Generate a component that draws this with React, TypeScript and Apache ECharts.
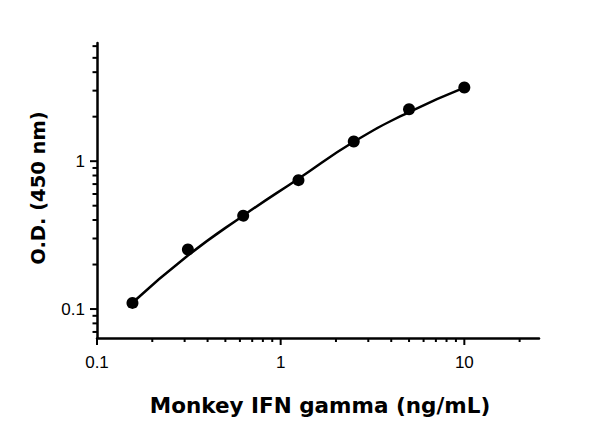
import React, { useEffect, useRef } from "react";
import * as echarts from "echarts";

// measured points
const conc = [0.156, 0.3125, 0.625, 1.25, 2.5, 5, 10];
const od = [0.11, 0.253, 0.428, 0.744, 1.359, 2.246, 3.15];
// fitted curve at the same concentrations
const curveConc = [0.156, 0.3125, 0.625, 1.25, 2.5, 5, 10];
const curveOd = [0.1103, 0.23, 0.428, 0.7614, 1.354, 2.15, 3.147];

const xMajorTicks = [0.1, 1, 10];
const xMinorTicks = [0.2, 0.3, 0.4, 0.5, 0.6, 0.7, 0.8, 0.9, 2, 3, 4, 5, 6, 7, 8, 9, 20];
const yMajorTicks = [0.1, 1];
const yMinorTicks = [0.07, 0.08, 0.09, 0.2, 0.3, 0.4, 0.5, 0.6, 0.7, 0.8, 0.9, 2, 3, 4, 5, 6];

const xTitle = "Monkey IFN gamma (ng/mL)";
const yTitle = "O.D. (450 nm)";

const X_MIN = 0.1;
const X_MAX = 25.5;
const Y_MIN = 0.0637;
const Y_MAX = 6.3;

const isPow10 = (v: number) => {
  const l = Math.log10(v);
  return Math.abs(l - Math.round(l)) < 1e-6;
};
const fmt = (v: number) => (isPow10(v) ? String(parseFloat(v.toPrecision(3))) : "");

export default function App() {
  const ref = useRef<HTMLDivElement>(null);
  useEffect(() => {
    document.body.style.margin = "0";
    if (!ref.current) return;
    const chart = echarts.init(ref.current, null, { renderer: "svg" });

    const xTickData = [
      ...xMajorTicks.map((v) => [v, Y_MIN, 7]),
      ...xMinorTicks.map((v) => [v, Y_MIN, 4]),
    ];
    const yTickData = [
      ...yMajorTicks.map((v) => [X_MIN, v, 7]),
      ...yMinorTicks.map((v) => [X_MIN, v, 4.5]),
    ];

    const labelFont = {
      fontSize: 17,
      color: "#000",
      fontFamily: "'Liberation Sans', Arial, sans-serif",
    };

    chart.setOption({
      animation: false,
      backgroundColor: "#fff",
      grid: { left: 97, right: 61, top: 43, bottom: 100 },
      xAxis: {
        type: "log",
        logBase: 10,
        min: X_MIN,
        max: X_MAX,
        axisLine: { show: true, onZero: false, lineStyle: { color: "#000", width: 2.5 } },
        axisTick: { show: false },
        splitLine: { show: false },
        minorTick: { show: false },
        axisLabel: { ...labelFont, margin: 16, formatter: fmt, showMaxLabel: false },
      },
      yAxis: {
        type: "log",
        logBase: 10,
        min: Y_MIN,
        max: Y_MAX,
        axisLine: { show: true, onZero: false, lineStyle: { color: "#000", width: 2.5 } },
        axisTick: { show: false },
        splitLine: { show: false },
        minorTick: { show: false },
        axisLabel: { ...labelFont, margin: 12, formatter: fmt, showMinLabel: false, showMaxLabel: false },
      },
      graphic: [
        {
          type: "text",
          x: 320,
          y: 405,
          style: {
            text: xTitle,
            fontSize: 21.5,
            fontWeight: "bold",
            fontFamily: "'DejaVu Sans', sans-serif",
            fill: "#000",
            textAlign: "center",
            textVerticalAlign: "middle",
          },
        },
        {
          type: "text",
          x: 38,
          y: 188,
          rotation: Math.PI / 2,
          style: {
            text: yTitle,
            fontSize: 19.5,
            fontWeight: "bold",
            fontFamily: "'DejaVu Sans', sans-serif",
            fill: "#000",
            textAlign: "center",
            textVerticalAlign: "middle",
          },
        },
      ],
      series: [
        {
          type: "custom",
          clip: false,
          silent: true,
          data: xTickData,
          renderItem: (params: any, api: any) => {
            const p = api.coord([api.value(0), api.value(1)]);
            const len = api.value(2);
            return {
              type: "line",
              shape: { x1: p[0], y1: p[1], x2: p[0], y2: p[1] + len },
              style: { stroke: "#000", lineWidth: 2 },
            };
          },
        },
        {
          type: "custom",
          clip: false,
          silent: true,
          data: yTickData,
          renderItem: (params: any, api: any) => {
            const p = api.coord([api.value(0), api.value(1)]);
            const len = api.value(2);
            return {
              type: "line",
              shape: { x1: p[0], y1: p[1], x2: p[0] - len, y2: p[1] },
              style: { stroke: "#000", lineWidth: 2 },
            };
          },
        },
        {
          type: "line",
          data: curveConc.map((c, i) => [c, curveOd[i]]),
          smooth: 0.5,
          showSymbol: false,
          symbol: "none",
          lineStyle: { color: "#000", width: 2.5 },
          z: 4,
        },
        {
          type: "scatter",
          data: conc.map((c, i) => [c, od[i]]),
          symbol: "circle",
          symbolSize: 12,
          itemStyle: { color: "#000", opacity: 1 },
          z: 5,
        },
      ],
    });
    return () => chart.dispose();
  }, []);
  return <div ref={ref} style={{ width: 600, height: 438 }} />;
}
